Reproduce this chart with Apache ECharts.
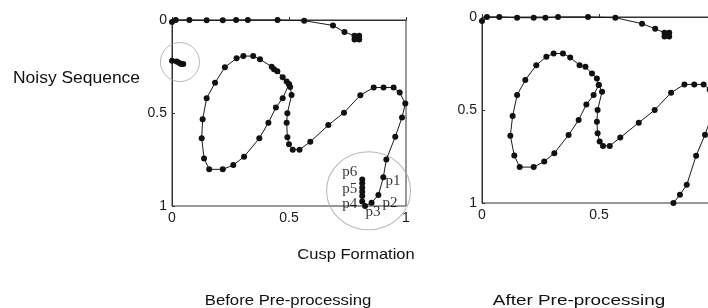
<!DOCTYPE html>
<html>
<head>
<meta charset="utf-8">
<script src="https://cdn.jsdelivr.net/npm/echarts@6/dist/echarts.min.js"></script>
<style>
html,body{margin:0;padding:0;background:#fff;}
#chart{width:708px;height:308px;}
</style>
</head>
<body>
<div id="chart"></div>
<script>
// ---------- data ----------
const axisTicks = [0, 0.5, 1];

// Before pre-processing (left panel)
const leftTopStroke = [
  [0.0,0.011],[0.016,0.0],[0.074,0.0],[0.148,0.002],[0.217,0.002],[0.274,0.0],[0.324,0.0],
  [0.451,0.0],[0.565,0.004],[0.688,0.029],[0.737,0.065],[0.78,0.085],[0.80,0.085],[0.80,0.105],[0.78,0.105]
];
const leftNoise = [
  [0.0,0.219],[0.02,0.223],[0.03,0.23],[0.039,0.237],[0.048,0.237]
];
const leftMainStroke = [
  [0.5,0.345],[0.473,0.421],[0.444,0.47],[0.412,0.552],[0.373,0.636],[0.308,0.735],[0.262,0.78],
  [0.217,0.803],[0.159,0.803],[0.137,0.744],[0.127,0.636],[0.131,0.534],[0.148,0.421],[0.184,0.337],
  [0.226,0.254],[0.276,0.206],[0.305,0.194],[0.347,0.194],[0.376,0.211],[0.426,0.251],[0.436,0.265],
  [0.45,0.275],[0.473,0.308],[0.49,0.33],[0.5,0.345],[0.505,0.36],[0.511,0.403],[0.493,0.502],
  [0.49,0.552],[0.493,0.631],[0.5,0.668],[0.516,0.697],[0.545,0.697],[0.591,0.655],[0.668,0.565],
  [0.735,0.498],[0.805,0.404],[0.862,0.363],[0.904,0.363],[0.947,0.363],[0.973,0.39],[0.997,0.449],
  [0.983,0.524],[0.954,0.628],[0.916,0.75],[0.903,0.846],[0.882,0.941],[0.853,0.982],[0.825,1.0],
  [0.813,0.976],[0.813,0.946],[0.813,0.923],[0.813,0.902],[0.813,0.878],[0.813,0.857]
];
// cusp point labels: name and index in leftMainStroke
const cuspNames   = ['p1','p2','p3','p4','p5','p6'];
const cuspIndexes = [46, 47, 48, 49, 51, 54];
// annotation circles (centres in data units)
const noiseCircleCentre = [0.034, 0.226];
const cuspCircleCentre  = [0.84, 0.918];

// After pre-processing (right panel)
const rightTopStroke = [
  [0.0,0.021],[0.021,0.0],[0.074,0.0],[0.15,0.004],[0.221,0.004],[0.271,0.004],[0.325,0.0],
  [0.453,0.0],[0.57,0.004],[0.684,0.036],[0.74,0.063],[0.78,0.085],[0.80,0.085],[0.80,0.105],[0.78,0.105]
];
const rightMainStroke = [
  [0.499,0.366],[0.477,0.42],[0.446,0.47],[0.413,0.554],[0.37,0.634],[0.309,0.732],[0.266,0.777],
  [0.221,0.807],[0.161,0.807],[0.138,0.745],[0.121,0.638],[0.131,0.532],[0.15,0.42],[0.185,0.339],
  [0.232,0.259],[0.275,0.214],[0.306,0.196],[0.346,0.196],[0.377,0.218],[0.417,0.259],[0.442,0.268],
  [0.47,0.304],[0.491,0.33],[0.499,0.366],[0.513,0.402],[0.494,0.5],[0.491,0.5625],[0.494,0.625],
  [0.503,0.67],[0.517,0.693],[0.546,0.693],[0.591,0.648],[0.67,0.568],[0.738,0.5],[0.808,0.407],
  [0.865,0.3625],[0.907,0.3625],[0.947,0.3625],[0.973,0.39],[0.995,0.45],[0.985,0.52],[0.953,0.633],
  [0.915,0.746],[0.875,0.902],[0.846,0.955],[0.818,1.0]
];

// ---------- chart ----------
const chart = echarts.init(document.getElementById('chart'), null, {renderer:'canvas'});
const tickFont = {fontFamily:'"Liberation Sans", Arial, sans-serif', fontSize:14, color:'#1a1a1a'};

function xAx(gi){
  return {gridIndex:gi, type:'value', min:0, max:1, interval:0.5,
    axisLine:{show:true, lineStyle:{color:'#333', width:1}},
    axisTick:{show:true, inside:true, length:3, lineStyle:{color:'#333'}},
    splitLine:{show:false},
    axisLabel:Object.assign({margin:5, formatter:v=>String(v)}, tickFont)};
}
function yAx(gi){
  return {gridIndex:gi, type:'value', min:0, max:1, interval:0.5, inverse:true,
    axisLine:{show:true, lineStyle:{color:'#333', width:1}},
    axisTick:{show:true, inside:true, length:3, lineStyle:{color:'#333'}},
    splitLine:{show:false},
    axisLabel:Object.assign({margin:5, formatter:v=>String(v)}, tickFont)};
}
function stroke(data, gi){
  return {type:'line', xAxisIndex:gi, yAxisIndex:gi, data:data, clip:false,
    symbol:'circle', symbolSize:6, showSymbol:true,
    lineStyle:{color:'#1a1a1a', width:1}, itemStyle:{color:'#111'}, animation:false, z:3};
}

const labelPos = {
  p1:{position:'right', offset:[2,-14]},
  p2:{position:'right', offset:[6,0]},
  p3:{position:'bottom', offset:[8,-6]},
  p4:{position:'left', offset:[0,3]},
  p5:{position:'left', offset:[0,-3]},
  p6:{position:'left', offset:[0,-7]}
};
const cuspLabelData = cuspNames.map((n,i)=>({
  name:n, value:leftMainStroke[cuspIndexes[i]],
  label:Object.assign({show:true, formatter:n}, labelPos[n])
}));

const sansFont = '"Liberation Sans", Arial, sans-serif';
const option = {
  backgroundColor:'#ffffff',
  animation:false,
  grid:[
    {left:172, top:20, width:234, height:186, show:true, borderColor:'#333', borderWidth:1, backgroundColor:'transparent', containLabel:false, outerBoundsMode:'none'},
    {left:482, top:17, width:234, height:186, show:true, borderColor:'#333', borderWidth:1, backgroundColor:'transparent', containLabel:false, outerBoundsMode:'none'}
  ],
  xAxis:[xAx(0), xAx(1)],
  yAxis:[yAx(0), yAx(1)],
  series:[
    stroke(leftTopStroke,0),
    stroke(leftNoise,0),
    stroke(leftMainStroke,0),
    stroke(rightTopStroke,1),
    stroke(rightMainStroke,1),
    {type:'scatter', xAxisIndex:0, yAxisIndex:0, clip:false, animation:false, silent:true, z:1,
      symbol:'circle',
      data:[{value:noiseCircleCentre, symbolSize:[39,39]},{value:cuspCircleCentre, symbolSize:[84,78]}],
      itemStyle:{color:'rgba(0,0,0,0)', borderColor:'#a8a8a8', borderWidth:1}},
    {type:'scatter', xAxisIndex:0, yAxisIndex:0, clip:false, animation:false, silent:true, z:4,
      symbolSize:0, data:cuspLabelData,
      label:{show:true, fontFamily:'"Liberation Serif", "Times New Roman", serif', fontSize:15, color:'#000'}}
  ],
  graphic:[
    {type:'text', x:13, y:79, scaleX:1.09, style:{text:'Noisy Sequence', font:'16px '+sansFont, fill:'#111', verticalAlign:'middle', align:'left'}},
    {type:'text', x:356, y:255, scaleX:1.1, style:{text:'Cusp Formation', font:'15px '+sansFont, fill:'#111', verticalAlign:'middle', align:'center'}},
    {type:'text', x:288, y:301, scaleX:1.08, style:{text:'Before Pre-processing', font:'15.5px '+sansFont, fill:'#111', verticalAlign:'middle', align:'center'}},
    {type:'text', x:579, y:301, scaleX:1.22, style:{text:'After Pre-processing', font:'15.5px '+sansFont, fill:'#111', verticalAlign:'middle', align:'center'}}
  ]
};
chart.setOption(option);
</script>
</body>
</html>
